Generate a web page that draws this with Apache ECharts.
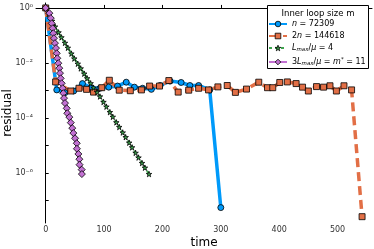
<!DOCTYPE html>
<html><head><meta charset="utf-8">
<script src="https://cdn.jsdelivr.net/npm/echarts@6/dist/echarts.min.js"></script>
<style>html,body{margin:0;padding:0;background:#fff}#c{width:374px;height:249px}</style>
</head><body><div id="c"></div>
<script>
// time values and log10(residual) values
const blueT   = [0, 19, 33, 48, 63, 78, 93, 108, 123, 138, 152, 166, 181, 196, 213, 232, 247, 262, 281, 300];
const blueLog = [0, -2.98, -3.08, -3.02, -2.75, -2.9, -2.92, -2.88, -2.84, -2.70, -2.88, -2.92, -2.96, -2.82, -2.66, -2.71, -2.82, -2.82, -2.98, -7.26];

const orangeT   = [0, 17, 43, 57, 70, 82, 96, 109, 126, 145, 164, 178, 195, 211, 227, 245, 262, 279, 295, 311, 325, 344, 365, 380, 389, 401, 414, 429, 440, 450, 464, 476, 487, 498, 511, 524, 542];
const orangeLog = [0, -2.69, -3.02, -2.92, -2.96, -3.06, -2.9, -2.63, -2.99, -3.01, -2.98, -2.84, -2.84, -2.64, -3.06, -2.99, -2.92, -2.98, -2.87, -2.82, -3.07, -2.95, -2.70, -2.9, -2.9, -2.71, -2.69, -2.75, -2.88, -3.02, -2.86, -2.88, -2.83, -3.02, -2.83, -2.98, -7.59];

const greenT   = [0, 5, 11, 16, 22, 27, 33, 38, 44, 49, 55, 60, 66, 71, 77, 82, 88, 93, 99, 104, 110, 115, 121, 126, 132, 137, 143, 148, 154, 159, 165, 170, 177];
const greenLog = [0, -0.22, -0.47, -0.68, -0.89, -1.07, -1.27, -1.45, -1.66, -1.84, -2.03, -2.2, -2.39, -2.56, -2.74, -2.9, -3.06, -3.22, -3.42, -3.59, -3.79, -3.96, -4.16, -4.33, -4.53, -4.70, -4.90, -5.07, -5.27, -5.44, -5.64, -5.81, -6.04];

const purpleT   = [0, 6.3, 8.7, 10.3, 12.0, 13.0, 14.2, 15.9, 17.7, 18.9, 19.9, 21.6, 23.3, 24.5, 25.7, 27.4, 29.1, 30.2, 31.4, 33.1, 36, 37, 40.5, 43, 45.5, 47.4, 50.3, 53.2, 53.5, 56, 57.7, 58, 61.7, 62];
const purpleLog = [0, -0.19, -0.37, -0.56, -0.74, -0.92, -1.1, -1.28, -1.46, -1.65, -1.83, -2.01, -2.19, -2.37, -2.56, -2.74, -2.92, -3.1, -3.28, -3.46, -3.65, -3.83, -3.97, -4.17, -4.37, -4.55, -4.74, -4.92, -5.12, -5.31, -5.5, -5.7, -5.88, -6.04];

const xTicks = [0, 100, 200, 300, 400, 500];
const yTicks = [-7, -6, -5, -4, -3, -2, -1, 0];
const yLabels = [-6, -4, -2, 0];
const yLabelText = {'-6': '10⁻⁶', '-4': '10⁻⁴', '-2': '10⁻²', '0': '10⁰'};

const names = ['n', '2n', 'L', '3L'];
const legendText = {
  'n': '{i|n} = 72309',
  '2n': '2{i|n} = 144618',
  'L': '{i|L}{sub|max}/{i|μ} = 4',
  '3L': '3{i|L}{sub|max}/{i|μ} = {i|m}{sup|*} = 11'
};

const zip = (a, b) => a.map((v, i) => [v, b[i]]);
const star = 'path://M50,0 L61,35 L98,35 L68,57 L79,91 L50,70 L21,91 L32,57 L2,35 L39,35 Z';

const chart = echarts.init(document.getElementById('c'), null, {renderer: 'canvas'});
chart.setOption({
  animation: false,
  backgroundColor: '#fff',
  grid: {left: 36, right: 2, top: 3, bottom: 26, containLabel: false, outerBoundsMode: 'none'},
  xAxis: {
    type: 'value', min: -16.6, max: 559,
    name: 'time', nameLocation: 'middle', nameGap: 14, nameMoveOverlap: false,
    nameTextStyle: {fontSize: 12, color: '#000', fontFamily: 'DejaVu Sans'},
    axisLine: {lineStyle: {color: '#000', width: 1}},
    axisTick: {inside: true, length: 3, customValues: xTicks, lineStyle: {color: '#000'}},
    axisLabel: {customValues: xTicks, fontSize: 8, color: '#333', margin: 3, fontFamily: 'DejaVu Sans'},
    splitLine: {show: false}
  },
  yAxis: {
    type: 'value', min: -7.82, max: 0.18,
    name: 'residual', nameLocation: 'middle', nameGap: 22, nameRotate: 90, nameMoveOverlap: false,
    nameTextStyle: {fontSize: 12, color: '#000', fontFamily: 'DejaVu Sans'},
    axisLine: {show: true, lineStyle: {color: '#000', width: 1}},
    axisTick: {show: true, inside: true, length: 3, customValues: yTicks, lineStyle: {color: '#000'}},
    axisLabel: {customValues: yLabels, fontSize: 8, color: '#333', margin: 3, fontFamily: 'DejaVu Sans',
      formatter: v => yLabelText[String(Math.round(v))] || ''},
    splitLine: {show: false}
  },
  graphic: [
    {type: 'rect', shape: {x: 267.5, y: 5.5, width: 101, height: 63}, style: {fill: '#fff', stroke: '#000', lineWidth: 1}, z: 100},
    {type: 'text', x: 318, y: 14, style: {text: 'Inner loop size m', fontSize: 8.5, fill: '#000', align: 'center', verticalAlign: 'middle', fontFamily: 'DejaVu Sans'}, z: 101}
  ],
  legend: {
    data: names.map(n => ({name: n, itemStyle: {borderColor: '#000', borderWidth: 0.8}})),
    orient: 'vertical', left: 268, top: 20, itemWidth: 18, itemHeight: 7, itemGap: 4,
    padding: 0, z: 102,
    formatter: n => legendText[n],
    textStyle: {fontSize: 8, color: '#000', fontFamily: 'DejaVu Sans',
      rich: {
        i: {fontStyle: 'italic', fontSize: 8, fontFamily: 'DejaVu Sans'},
        sub: {fontSize: 5.5, fontStyle: 'italic', padding: [4, 0, 0, 0], fontFamily: 'DejaVu Sans'},
        sup: {fontSize: 5.5, padding: [0, 0, 4, 0], fontFamily: 'DejaVu Sans'}
      }}
  },
  series: [
    {name: 'n', type: 'line', data: zip(blueT, blueLog), color: '#009AFA',
      lineStyle: {width: 3.5, color: '#009AFA'}, symbol: 'circle', symbolSize: 6,
      itemStyle: {color: '#009AFA', borderColor: '#000', borderWidth: 0.8}},
    {name: '2n', type: 'line', data: zip(orangeT, orangeLog), color: '#E26F46',
      lineStyle: {width: 3.5, color: '#E26F46', type: [9, 5]}, symbol: 'rect', symbolSize: 6,
      itemStyle: {color: '#E26F46', borderColor: '#000', borderWidth: 0.8}},
    {name: 'L', type: 'line', data: zip(greenT, greenLog), color: '#3EA44E',
      lineStyle: {width: 2, color: '#3EA44E', type: [3, 3]}, symbol: star, symbolSize: 5.5,
      itemStyle: {color: '#3EA44E', borderColor: '#000', borderWidth: 0.8}},
    {name: '3L', type: 'line', data: zip(purpleT, purpleLog), color: '#C271D2',
      lineStyle: {width: 3.5, color: '#C271D2'}, symbol: 'diamond', symbolSize: 7,
      itemStyle: {color: '#C271D2', borderColor: '#000', borderWidth: 0.8}}
  ]
});
</script></body></html>
